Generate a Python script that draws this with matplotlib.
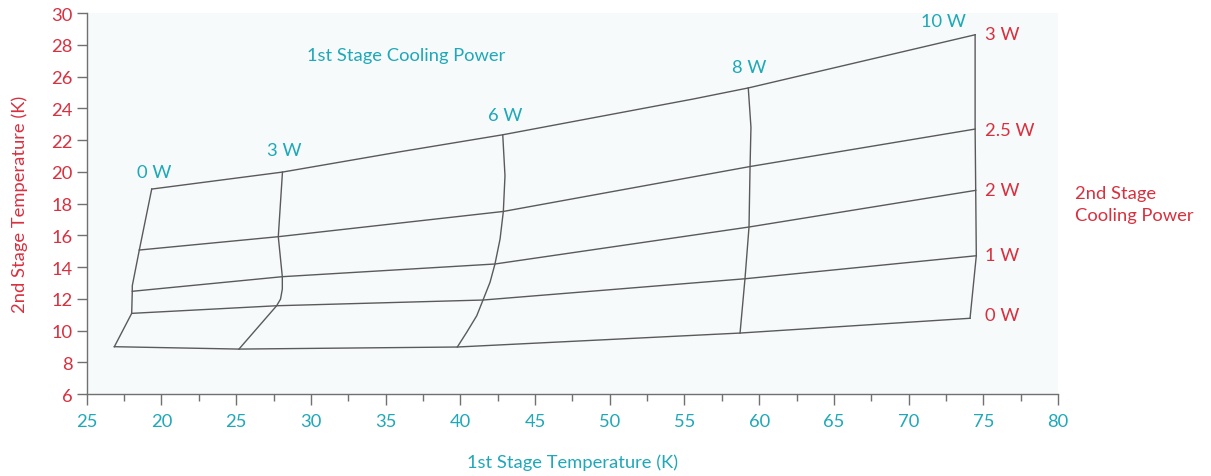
import matplotlib
matplotlib.use("Agg")
import matplotlib.pyplot as plt
from matplotlib.ticker import MultipleLocator, FixedLocator

plt.rcParams['font.family'] = ['Lato', 'DejaVu Sans']

TEAL = '#1fa8b8'
RED = '#d8303f'
LINE = '#5a5a5a'
GRID_BG = '#f6fafb'
FS = 13.2

# --- Data: 2nd-stage power curves (constant 2nd-stage load), points along 1st-stage temperature ---
stage2_labels = ['3 W', '2.5 W', '2 W', '1 W', '0 W']
s2_3W_T1 = [19.35, 28.10, 35.97, 42.84, 55.57, 59.27, 74.45]
s2_3W_T2 = [18.91, 19.98, 21.26, 22.33, 24.58, 25.28, 28.63]
s2_25W_T1 = [18.52, 27.82, 42.88, 59.39, 74.45]
s2_25W_T2 = [15.07, 15.91, 17.50, 20.33, 22.69]
s2_2W_T1 = [18.05, 28.09, 42.32, 59.32, 74.49]
s2_2W_T2 = [12.47, 13.39, 14.19, 16.52, 18.83]
s2_1W_T1 = [18.01, 27.71, 41.52, 59.05, 74.53]
s2_1W_T2 = [11.08, 11.56, 11.92, 13.26, 14.71]
s2_0W_T1 = [16.85, 25.19, 39.80, 58.72, 74.11]
s2_0W_T2 = [8.98, 8.83, 8.96, 9.84, 10.77]

# --- Data: 1st-stage power curves (constant 1st-stage load) ---
stage1_labels = ['0 W', '3 W', '6 W', '8 W', '10 W']
s1_0W_T1 = [19.35, 18.52, 18.05, 18.05, 18.01, 16.85]
s1_0W_T2 = [18.91, 15.07, 12.82, 12.47, 11.08, 8.98]
s1_3W_T1 = [28.10, 27.82, 28.09, 28.09, 27.97, 27.71, 25.19]
s1_3W_T2 = [19.98, 15.91, 13.39, 12.61, 11.98, 11.56, 8.83]
s1_6W_T1 = [42.84, 42.99, 42.88, 42.66, 42.32, 41.99, 41.52, 41.10, 40.43, 39.80]
s1_6W_T2 = [22.33, 19.75, 17.50, 15.76, 14.19, 13.04, 11.92, 10.93, 9.89, 8.96]
s1_8W_T1 = [59.27, 59.45, 59.39, 59.32, 59.05, 58.72]
s1_8W_T2 = [25.28, 22.80, 20.33, 16.52, 13.26, 9.84]
s1_10W_T1 = [74.45, 74.45, 74.49, 74.53, 74.11]
s1_10W_T2 = [28.63, 22.69, 18.83, 14.71, 10.77]

# label anchor positions (data coords)
stage1_label_x = [19.5, 28.2, 43.0, 59.3, 72.3]
stage1_label_y = [20.0, 21.35, 23.55, 26.6, 29.5]
stage2_label_x = [75.1, 75.1, 75.1, 75.1, 75.1]
stage2_label_y = [28.65, 22.65, 18.85, 14.75, 10.95]

x_ticks = [15, 20, 25, 30, 35, 40, 45, 50, 55, 60, 65, 70, 75, 80]
x_tick_labels = ['25', '20', '25', '30', '35', '40', '45', '50', '55', '60', '65', '70', '75', '80']
y_ticks = [6, 8, 10, 12, 14, 16, 18, 20, 22, 24, 26, 28, 30]

fig = plt.figure(figsize=(12.11, 4.77), dpi=100)
ax = fig.add_axes([0.0716, 0.1719, 0.8021, 0.7987])
ax.set_facecolor(GRID_BG)

s2_curves = [(s2_3W_T1, s2_3W_T2), (s2_25W_T1, s2_25W_T2), (s2_2W_T1, s2_2W_T2),
             (s2_1W_T1, s2_1W_T2), (s2_0W_T1, s2_0W_T2)]
s1_curves = [(s1_0W_T1, s1_0W_T2), (s1_3W_T1, s1_3W_T2), (s1_6W_T1, s1_6W_T2),
             (s1_8W_T1, s1_8W_T2), (s1_10W_T1, s1_10W_T2)]
for xs, ys in s2_curves + s1_curves:
    ax.plot(xs, ys, color=LINE, lw=1.0, solid_joinstyle='round')

for lab, lx, ly in zip(stage1_labels, stage1_label_x, stage1_label_y):
    ax.text(lx, ly, lab, color=TEAL, fontsize=FS, ha='center', va='center')
for lab, lx, ly in zip(stage2_labels, stage2_label_x, stage2_label_y):
    ax.text(lx, ly, lab, color=RED, fontsize=FS, ha='left', va='center')

ax.text(36.4, 27.35, '1st Stage Cooling Power', color=TEAL, fontsize=FS, ha='center', va='center')
fig.text(1075 / 1211, 1 - 205 / 477, '2nd Stage\nCooling Power', color=RED, fontsize=FS,
         ha='left', va='center', linespacing=1.45)

ax.set_xlim(15, 80)
ax.set_ylim(6, 30)
ax.xaxis.set_major_locator(FixedLocator(x_ticks))
ax.set_xticklabels(x_tick_labels)
ax.xaxis.set_minor_locator(MultipleLocator(2.5))
ax.yaxis.set_major_locator(FixedLocator(y_ticks))

for s in ['top', 'right']:
    ax.spines[s].set_visible(False)
for s in ['left', 'bottom']:
    ax.spines[s].set_color('#707070')
    ax.spines[s].set_linewidth(1.0)

ax.tick_params(axis='x', which='major', length=8, width=1.0, color='#707070',
               labelcolor=TEAL, labelsize=FS, pad=6)
ax.tick_params(axis='x', which='minor', length=5, width=1.0, color='#707070')
ax.tick_params(axis='y', which='major', length=7, width=1.0, color='#707070',
               labelcolor=RED, labelsize=FS, pad=3)

ax.set_xlabel('1st Stage Temperature (K)', color=TEAL, fontsize=FS, labelpad=17)
ax.set_ylabel('2nd Stage Temperature (K)', color=RED, fontsize=FS, labelpad=17)

fig.savefig('out.png', dpi=100, facecolor='white')
